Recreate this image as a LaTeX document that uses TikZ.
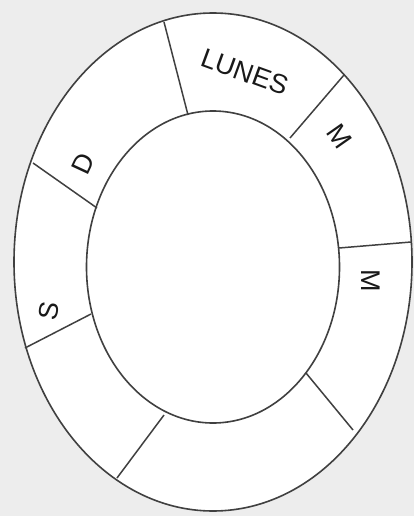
\documentclass[tikz,border=0pt]{standalone}
\usepackage{fontspec}
\setmainfont{Liberation Sans}
\begin{document}
\begin{tikzpicture}[x=1pt,y=-1pt,
  ring/.style={draw=black!75,line width=1.6pt},
  divider/.style={draw=black!75,line width=1.5pt},
  daylabel/.style={font=\fontsize{27}{27}\selectfont,text=black!90,inner sep=0pt}]
\fill[black!7] (0,0) rectangle (414,516);
\useasboundingbox (0,0) rectangle (414,516);
% ring
\fill[white] (213,262) ellipse [x radius=199,y radius=249];
\draw[ring] (213,262) ellipse [x radius=199,y radius=249];
\draw[ring] (213,267) ellipse [x radius=126.5,y radius=156];
% divider end points
\coordinate (o1) at (164,22);   \coordinate (i1) at (188,115);
\coordinate (o2) at (344,75);   \coordinate (i2) at (290,138);
\coordinate (o3) at (411,242);  \coordinate (i3) at (339,248);
\coordinate (o4) at (353,430);  \coordinate (i4) at (306,373);
\coordinate (o5) at (117,478);  \coordinate (i5) at (164,415);
\coordinate (o6) at (25,348);   \coordinate (i6) at (91,314);
\coordinate (o7) at (33,163);   \coordinate (i7) at (97,208);
\foreach \k in {1,...,7} \draw[divider] (o\k) -- (i\k);
% labels
\node[daylabel,rotate=-20] (lunes) at (245,72) {LUNES};
\node[daylabel,rotate=-55] (mar) at (340,136) {M};
\node[daylabel,rotate=-90] (mie) at (371,281) {M};
\node[daylabel,rotate=65] (dom) at (83,164) {D};
\node[daylabel,rotate=80] (sab) at (49,311) {S};
\end{tikzpicture}
\end{document}
